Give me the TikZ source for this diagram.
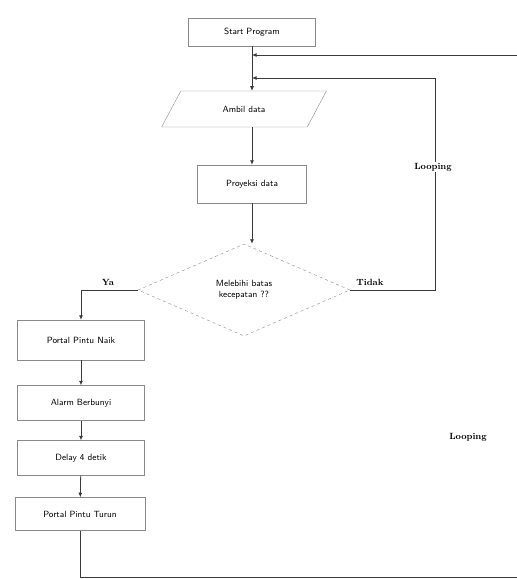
\documentclass[tikz,border=0pt]{standalone}
\usepackage{tikz}
\usetikzlibrary{arrows.meta,positioning,shapes.geometric}
\definecolor{garis}{HTML}{3A3A3A}
\definecolor{tepi}{HTML}{8A8A8A}

\begin{document}
\begin{tikzpicture}[x=1pt,y=-1pt,
 kotak/.style={draw=tepi,fill=white,align=center,minimum width=127pt,
 minimum height=35pt,font=\sffamily\small,inner sep=1pt},
 masukan/.style={trapezium,trapezium left angle=60,trapezium right angle=120,
 trapezium stretches=true,draw=tepi,minimum width=165pt,minimum height=36pt,
 font=\sffamily\small},
 keputusan/.style={diamond,draw=tepi,dashed,align=center,minimum width=212pt,
 minimum height=92pt,inner sep=0pt,font=\sffamily\small},
 label/.style={font=\small\bfseries,inner sep=1pt},
 arr/.style={-{Latex[length=1.6mm,width=1.4mm]},draw=garis,thick},
 garisan/.style={draw=garis,thick}]
\useasboundingbox (0,0) rectangle (517,579);
\node[kotak,minimum height=28pt] (start) at (252,32) {Start Program};
\node[masukan] (ambil) at (244,109) {Ambil data};
\node[kotak,minimum width=109pt,minimum height=38pt] (proyeksi) at (252,184) {Proyeksi data};
\node[keputusan] (cek) at (244,290) {Melebihi batas\\kecepatan ??};
\node[kotak,minimum height=40pt] (naik) at (81,340) {Portal Pintu Naik};
\node[kotak] (alarm) at (81,403) {Alarm Berbunyi};
\node[kotak] (delay) at (81,458) {Delay 4 detik};
\node[kotak,minimum width=130pt,minimum height=33pt] (turun) at (80,514) {Portal Pintu Turun};
\coordinate (j1) at (252,55);
\coordinate (j2) at (252,78);
\coordinate (ujung) at (520,577);
\coordinate (kanan) at (435,78);
% alur utama
\draw[garisan] (start.south) -- (j1);
\draw[arr] (j1) -- (ambil.north -| j1);
\draw[arr] (ambil.south -| j1) -- (proyeksi.north -| j1);
\draw[arr] (proyeksi.south -| j1) -- (cek.north -| j1);
\draw[arr] (cek.west) -| (naik.north);
\draw[arr] (naik) -- (alarm);
\draw[arr] (alarm) -- (delay);
\draw[arr] (delay) -- (turun);
% looping
\draw[arr] (cek.east) -| (kanan) -- (j2);
\draw[arr] (turun.south) |- (ujung) |- (j1);
\node[label] at (108,282) {Ya};
\node[label] at (370,282) {Tidak};
\node[label,fill=white] at (433,167) {Looping};
\node[label] at (468,437) {Looping};
\end{tikzpicture}
\end{document}
